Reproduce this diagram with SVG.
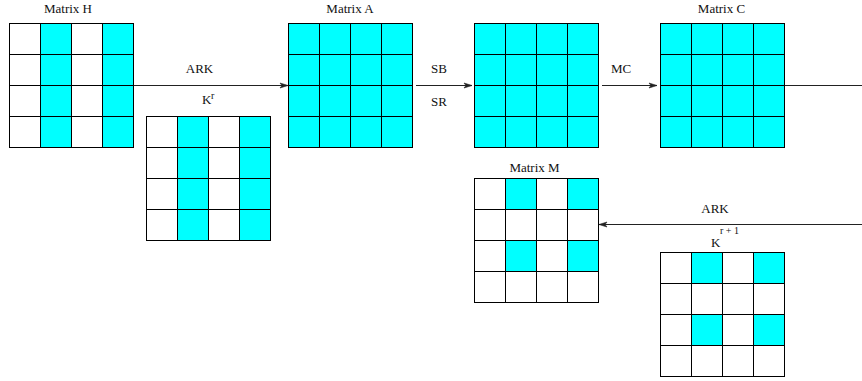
<svg xmlns="http://www.w3.org/2000/svg" width="862" height="381" viewBox="0 0 862 381">
<style>
.w{fill:#ffffff;stroke:#000;stroke-width:1}
.c{fill:#00ffff;stroke:#000;stroke-width:1}
.t{font-family:"Liberation Serif","Times New Roman",serif;font-size:13px;fill:#111}
.s{font-family:"Liberation Serif","Times New Roman",serif;font-size:10px;fill:#111}
.ln{stroke:#222;stroke-width:1;fill:none}
</style>
<defs>
<marker id="ah" markerUnits="userSpaceOnUse" markerWidth="10" markerHeight="8" refX="9" refY="4" orient="auto">
<path d="M1,1.5 L9,4 L1,6.5 L3,4 z" fill="#222" stroke="#222" stroke-width="0.6"/>
</marker>
<g id="row4w">
<rect class="w" x="0" y="0" width="31" height="31"/><rect class="w" x="31" y="0" width="31" height="31"/><rect class="w" x="62" y="0" width="31" height="31"/><rect class="w" x="93" y="0" width="31" height="31"/>
</g>
<g id="row4c">
<rect class="c" x="0" y="0" width="31" height="31"/><rect class="c" x="31" y="0" width="31" height="31"/><rect class="c" x="62" y="0" width="31" height="31"/><rect class="c" x="93" y="0" width="31" height="31"/>
</g>
<g id="rowalt">
<rect class="w" x="0" y="0" width="31" height="31"/><rect class="c" x="31" y="0" width="31" height="31"/><rect class="w" x="62" y="0" width="31" height="31"/><rect class="c" x="93" y="0" width="31" height="31"/>
</g>
<g id="full">
<use href="#row4c" y="0"/><use href="#row4c" y="31"/><use href="#row4c" y="62"/><use href="#row4c" y="93"/>
</g>
<g id="cols">
<use href="#rowalt" y="0"/><use href="#rowalt" y="31"/><use href="#rowalt" y="62"/><use href="#rowalt" y="93"/>
</g>
<g id="checker">
<use href="#rowalt" y="0"/><use href="#row4w" y="31"/><use href="#rowalt" y="62"/><use href="#row4w" y="93"/>
</g>
</defs>
<rect width="862" height="381" fill="#ffffff"/>

<g id="connectors">
<line class="ln" x1="133.5" y1="85.5" x2="288" y2="85.5" marker-end="url(#ah)"/>
<line class="ln" x1="416" y1="85.5" x2="472" y2="85.5" marker-end="url(#ah)"/>
<line class="ln" x1="602" y1="85.5" x2="657" y2="85.5" marker-end="url(#ah)"/>
<line class="ln" x1="785" y1="85.5" x2="862" y2="85.5"/>
<line class="ln" x1="862" y1="224.5" x2="599" y2="224.5" marker-end="url(#ah)"/>
<text class="t" x="199.5" y="73" text-anchor="middle">ARK</text>
<text class="t" x="439" y="73" text-anchor="middle">SB</text>
<text class="t" x="439" y="106" text-anchor="middle">SR</text>
<text class="t" x="621" y="73" text-anchor="middle">MC</text>
<text class="t" x="715" y="213" text-anchor="middle">ARK</text>
</g>

<g id="matrixH">
<text class="t" x="68" y="13" text-anchor="middle">Matrix H</text>
<use href="#cols" x="9.5" y="23.5"/>
</g>

<g id="keyR">
<text class="t" x="202" y="103.5">K</text>
<text class="s" x="211" y="99">r</text>
<use href="#cols" x="146.5" y="116.5"/>
</g>

<g id="matrixA">
<text class="t" x="350" y="13" text-anchor="middle">Matrix A</text>
<use href="#full" x="288.5" y="23.5"/>
</g>

<g id="matrixB">
<use href="#full" x="474.5" y="23.5"/>
</g>

<g id="matrixC">
<text class="t" x="721.5" y="13" text-anchor="middle">Matrix C</text>
<use href="#full" x="660.5" y="23.5"/>
</g>

<g id="matrixM">
<text class="t" x="534.5" y="172" text-anchor="middle">Matrix M</text>
<use href="#checker" x="474.5" y="178.5"/>
</g>

<g id="keyR1">
<text class="t" x="711" y="247">K</text>
<text class="s" x="720" y="234">r + 1</text>
<use href="#checker" x="660.5" y="252.5"/>
</g>
</svg>
